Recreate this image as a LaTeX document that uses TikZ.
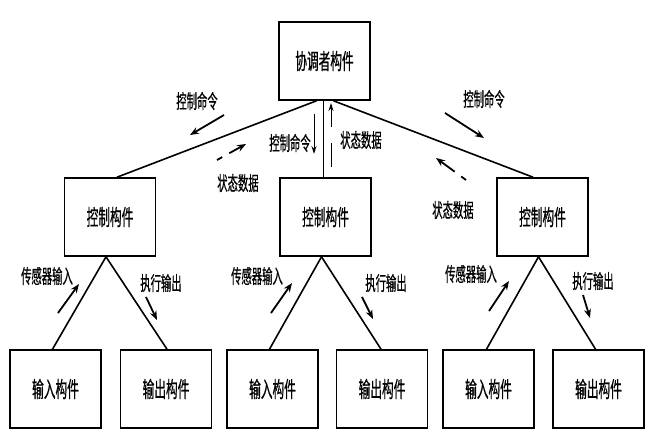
\documentclass[tikz,border=0pt]{standalone}
\usepackage{fontspec}
\newfontfamily\cnfont[FakeStretch=0.53,FakeBold=0.6]{Noto Sans CJK SC}
\usetikzlibrary{arrows.meta,calc}

\begin{document}
\begin{tikzpicture}[x=1pt,y=-1pt,
  box/.style={draw,line width=1.6pt,minimum width=91pt,minimum height=78pt,inner sep=0pt,font=\cnfont\fontsize{22}{22}\selectfont},
  lbl/.style={inner sep=0pt,font=\cnfont\fontsize{19.5}{19.5}\selectfont},
  link/.style={line width=1.6pt},
  arr/.style={-{Stealth[length=9pt,width=7pt]},line width=1.8pt},
  darr/.style={arr,dash pattern=on 6pt off 8pt on 40pt},
  tarr/.style={-{Stealth[length=8pt,width=5pt]},line width=0.9pt}]
\useasboundingbox (0,0) rectangle (652,441);
% boxes
\node[box] (top) at (324.5,61) {协调者构件};
\node[box] (lctrl) at (110,217) {控制构件};
\node[box] (mctrl) at (325.5,217) {控制构件};
\node[box] (rctrl) at (542.5,217) {控制构件};
\node[box] (lin) at (55.5,389) {输入构件};
\node[box] (lout) at (166,389) {输出构件};
\node[box] (min) at (272.5,389) {输入构件};
\node[box] (mout) at (382,389) {输出构件};
\node[box] (rin) at (488.5,389) {输入构件};
\node[box] (rout) at (598.5,389) {输出构件};
% links
\draw[link] ($(top.south)+(-8,0)$) -- ($(lctrl.north)+(7,0)$);
\draw[link] ($(top.south)+(9,0)$) -- ($(rctrl.north)+(-9.5,0)$);
\draw[line width=0.8pt,double,double distance=2pt] (top.south) -- (top.south |- mctrl.north);
\draw[link] ($(lctrl.south)+(-4,0)$) -- ($(lin.north)+(-3,0)$);
\draw[link] ($(lctrl.south)+(-4,0)$) -- ($(lout.north)+(1,0)$);
\draw[link] ($(mctrl.south)+(-4,0)$) -- ($(min.north)+(-3,0)$);
\draw[link] ($(mctrl.south)+(-4,0)$) -- ($(mout.north)+(-1,0)$);
\draw[link] ($(rctrl.south)+(-4,0)$) -- ($(rin.north)+(-2,0)$);
\draw[link] ($(rctrl.south)+(-4,0)$) -- ($(rout.north)+(-3,0)$);
% upper labels and arrows
\node[lbl] (lcmd) at (197,101) {控制命令};
\draw[arr] (224,115) -- (190,135);
\node[lbl] (lstate) at (238,183) {状态数据};
\draw[darr] (217,160) -- (246,144);
\node[lbl] (mcmd) at (290,143) {控制命令};
\draw[tarr] (314,114) -- (314,154);
\node[lbl] (mstate) at (361,140) {状态数据};
\draw[tarr,dash pattern=on 24pt off 16pt on 30pt] (331,167) -- (331,103);
\node[lbl] (rcmd) at (484,99) {控制命令};
\draw[arr] (445,113) -- (484,138);
\node[lbl] (rstate) at (453,210) {状态数据};
\draw[darr] (466,180) -- (436,158);
% lower labels and arrows
\node[lbl] (lsens) at (47,276) {传感器输入};
\draw[arr] (58,313) -- (79,284);
\node[lbl] (lexec) at (161,283) {执行输出};
\draw[arr] (146,297) -- (157,320);
\node[lbl] (msens) at (257,276) {传感器输入};
\draw[arr] (271,313) -- (292,283);
\node[lbl] (mexec) at (386,283) {执行输出};
\draw[arr] (362,297) -- (373,319);
\node[lbl] (rsens) at (471,274) {传感器输入};
\draw[arr] (489,311) -- (509,281);
\node[lbl] (rexec) at (593,281) {执行输出};
\draw[arr] (583,295) -- (590,318);
\end{tikzpicture}
\end{document}
